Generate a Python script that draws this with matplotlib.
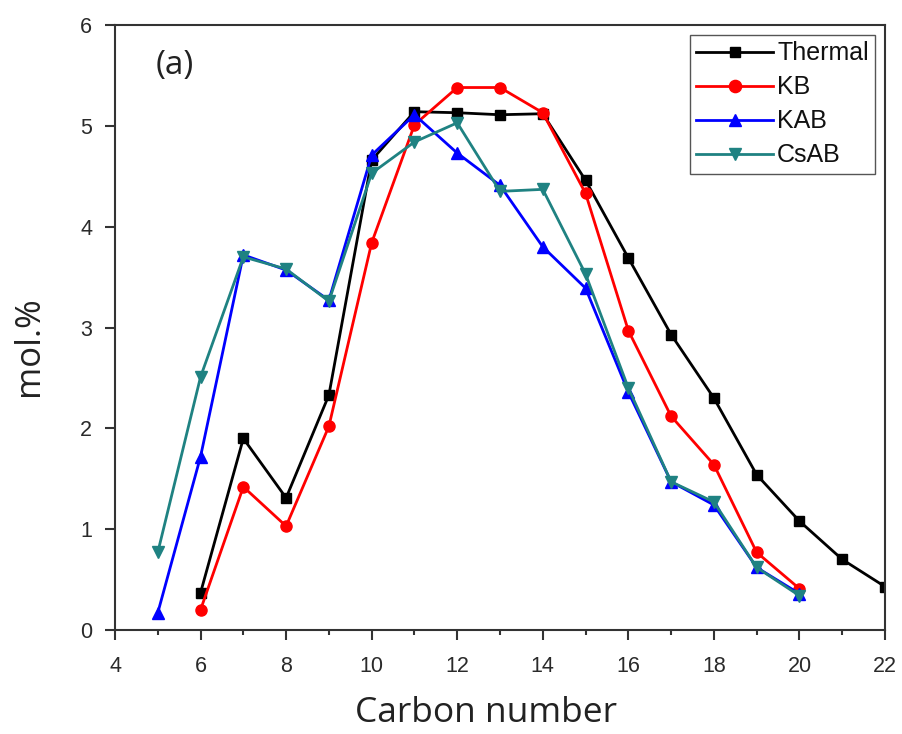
import matplotlib
matplotlib.use("Agg")
import matplotlib.pyplot as plt
from matplotlib.ticker import MultipleLocator

carbon_thermal = [6, 7, 8, 9, 10, 11, 12, 13, 14, 15, 16, 17, 18, 19, 20, 21, 22]
thermal = [0.37, 1.90, 1.31, 2.33, 4.66, 5.14, 5.13, 5.11, 5.12, 4.46, 3.69, 2.93, 2.30, 1.54, 1.08, 0.70, 0.43]

carbon_kb = [6, 7, 8, 9, 10, 11, 12, 13, 14, 15, 16, 17, 18, 19, 20]
kb = [0.20, 1.42, 1.03, 2.02, 3.84, 5.01, 5.38, 5.38, 5.13, 4.33, 2.97, 2.12, 1.64, 0.77, 0.41]

carbon_ab = [5, 6, 7, 8, 9, 10, 11, 12, 13, 14, 15, 16, 17, 18, 19, 20]
kab = [0.17, 1.72, 3.72, 3.57, 3.27, 4.71, 5.11, 4.73, 4.41, 3.80, 3.39, 2.36, 1.47, 1.24, 0.62, 0.36]
csab = [0.77, 2.51, 3.70, 3.58, 3.26, 4.53, 4.84, 5.03, 4.35, 4.37, 3.53, 2.40, 1.47, 1.27, 0.62, 0.34]

series_labels = ["Thermal", "KB", "KAB", "CsAB"]
xlabel = "Carbon number"
ylabel = "mol.%"
panel = "(a)"

fig = plt.figure(figsize=(9.02, 7.34), dpi=100)
ax = fig.add_axes([115/902, 1 - 630/734, (885-115)/902, (630-25)/734])

lw = 2.0
ax.plot(carbon_thermal, thermal, color="black", marker="s", ms=7, lw=lw, label=series_labels[0])
ax.plot(carbon_kb, kb, color="#ff0000", marker="o", ms=8, lw=lw, label=series_labels[1])
ax.plot(carbon_ab, kab, color="#0000ff", marker="^", ms=8, lw=lw, label=series_labels[2])
ax.plot(carbon_ab, csab, color="#1f8282", marker="v", ms=8, lw=lw, label=series_labels[3])

ax.set_xlim(4, 22)
ax.set_ylim(0, 6)
ax.xaxis.set_major_locator(MultipleLocator(2))
ax.xaxis.set_minor_locator(MultipleLocator(1))
ax.yaxis.set_major_locator(MultipleLocator(1))

for s in ax.spines.values():
    s.set_linewidth(1.5)
    s.set_color("#333333")

ax.tick_params(axis="both", which="major", direction="out", length=7.5, width=1.5,
               labelsize=15.5, colors="#333333")
ax.tick_params(axis="x", which="major", pad=11)
ax.tick_params(axis="y", which="major", pad=9)
ax.tick_params(axis="x", which="minor", direction="out", length=3.5, width=1.5, colors="#333333")
for lab in ax.get_xticklabels() + ax.get_yticklabels():
    lab.set_fontfamily("Liberation Sans")
    lab.set_color("#2a2a2a")

ax.set_xlabel(xlabel, fontsize=25.5, family="Open Sans", color="#222222", va="baseline")
ax.xaxis.set_label_coords(0.482, -0.152)
ax.set_ylabel(ylabel, fontsize=25, family="Open Sans", color="#222222")
ax.yaxis.set_label_coords(-0.09, 0.47)

ax.text(4.95, 5.6, panel, fontsize=24, family="Open Sans", color="#222222", va="center")

leg = ax.legend(loc="upper right", fancybox=False, edgecolor="#555555", framealpha=1,
                prop={"family": "Liberation Sans", "size": 18},
                handlelength=3.1, handletextpad=0.15, labelspacing=0.4,
                borderpad=0.25, borderaxespad=0.4, markerscale=1.1)
leg.get_frame().set_linewidth(1.0)
for t in leg.get_texts():
    t.set_color("#111111")

fig.savefig("out.png", dpi=100)
